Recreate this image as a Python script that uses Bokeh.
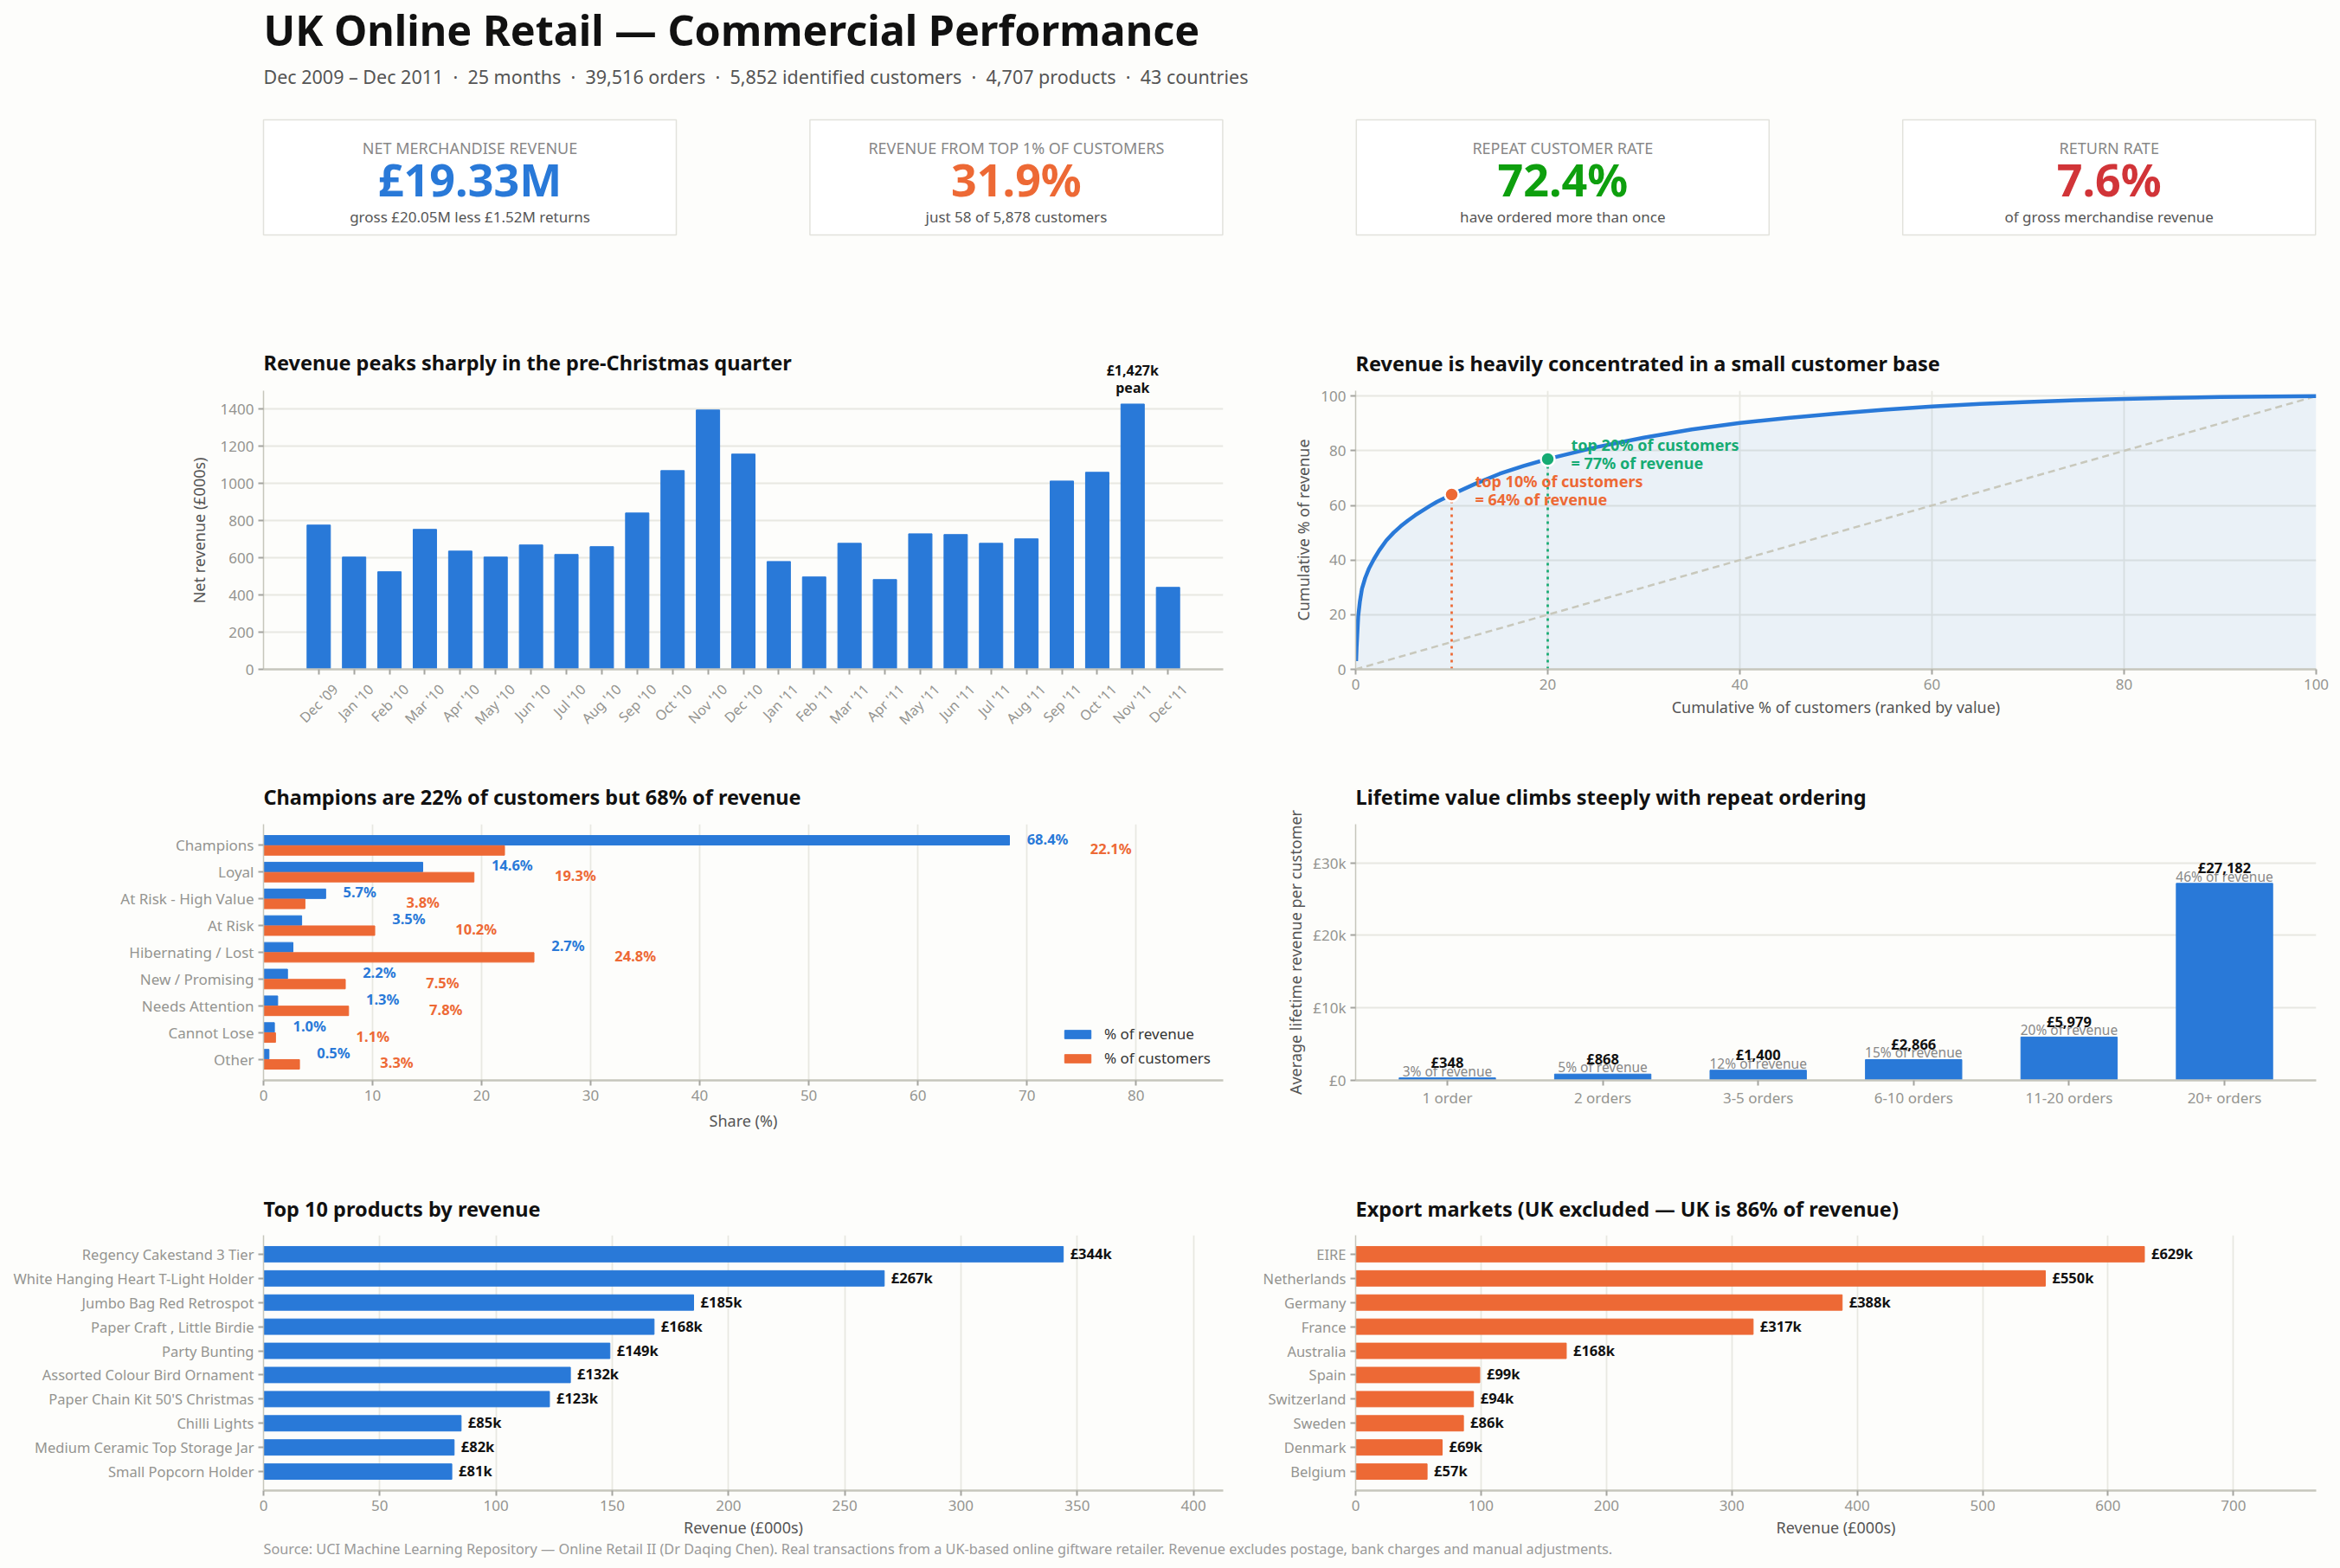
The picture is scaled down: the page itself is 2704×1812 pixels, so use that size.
from bokeh.core.properties import value
from bokeh.embed import file_html
from bokeh.resources import INLINE
from bokeh.layouts import column, row
from bokeh.models import ColumnDataSource, FactorRange, Label, LinearAxis, Range1d
from bokeh.plotting import figure
from bokeh.transform import dodge

# ---------- data ----------
title_text = "UK Online Retail — Commercial Performance"
subtitle_text = ("Dec 2009 – Dec 2011 \u00a0·\u00a0 25 months \u00a0·\u00a0 39,516 orders \u00a0·\u00a0 "
                 "5,852 identified customers \u00a0·\u00a0 4,707 products \u00a0·\u00a0 43 countries")
source_text = ("Source: UCI Machine Learning Repository — Online Retail II (Dr Daqing Chen). Real transactions from a "
               "UK-based online giftware retailer. Revenue excludes postage, bank charges and manual adjustments.")

kpi_labels = ["NET MERCHANDISE REVENUE", "REVENUE FROM TOP 1% OF CUSTOMERS", "REPEAT CUSTOMER RATE", "RETURN RATE"]
kpi_values = ["£19.33M", "31.9%", "72.4%", "7.6%"]
kpi_notes = ["gross £20.05M less £1.52M returns", "just 58 of 5,878 customers",
             "have ordered more than once", "of gross merchandise revenue"]

months = ["Dec '09", "Jan '10", "Feb '10", "Mar '10", "Apr '10", "May '10", "Jun '10", "Jul '10", "Aug '10",
          "Sep '10", "Oct '10", "Nov '10", "Dec '10", "Jan '11", "Feb '11", "Mar '11", "Apr '11", "May '11",
          "Jun '11", "Jul '11", "Aug '11", "Sep '11", "Oct '11", "Nov '11", "Dec '11"]
monthly_revenue = [776, 604, 525, 753, 636, 604, 669, 618, 660, 841, 1069, 1395, 1158, 580, 497, 678, 483,
                   729, 725, 678, 702, 1013, 1060, 1427, 441]

lorenz_customers = [0.05, 0.1, 0.27, 0.45, 0.66, 1, 1.4, 1.9, 2.45, 3.2, 3.95, 4.7, 5.45, 6.2, 6.95, 7.7, 8.45, 10,
                    12.5, 15, 17.5, 20, 25, 30, 35, 40, 45, 50, 55, 60, 65, 70, 75, 80, 85, 90, 95, 100]
lorenz_revenue = [3, 8, 19.5, 25, 29.5, 33.5, 37, 40.3, 43.5, 47.2, 50, 52.4, 54.5, 56.4, 58.1, 59.75, 61.3, 64,
                  68, 71.6, 74.5, 77, 81.3, 84.8, 87.8, 90.2, 92, 93.6, 95, 96.2, 97.2, 97.9, 98.5, 99, 99.4, 99.7,
                  99.9, 100]
diagonal = [0, 100]
top_customers = [10, 20]
top_revenue = [64, 77]

segments = ["Champions", "Loyal", "At Risk - High Value", "At Risk", "Hibernating / Lost", "New / Promising",
            "Needs Attention", "Cannot Lose", "Other"]
segment_revenue = [68.4, 14.6, 5.7, 3.5, 2.7, 2.2, 1.3, 1.0, 0.5]
segment_customers = [22.1, 19.3, 3.8, 10.2, 24.8, 7.5, 7.8, 1.1, 3.3]

order_bands = ["1 order", "2 orders", "3-5 orders", "6-10 orders", "11-20 orders", "20+ orders"]
lifetime_value = [348, 868, 1400, 2866, 5979, 27182]
band_revenue_share = [3, 5, 12, 15, 20, 46]

products = ["Regency Cakestand 3 Tier", "White Hanging Heart T-Light Holder", "Jumbo Bag Red Retrospot",
            "Paper Craft , Little Birdie", "Party Bunting", "Assorted Colour Bird Ornament",
            "Paper Chain Kit 50'S Christmas", "Chilli Lights", "Medium Ceramic Top Storage Jar",
            "Small Popcorn Holder"]
product_revenue = [344, 267, 185, 168, 149, 132, 123, 85, 82, 81]

countries = ["EIRE", "Netherlands", "Germany", "France", "Australia", "Spain", "Switzerland", "Sweden",
             "Denmark", "Belgium"]
country_revenue = [629, 550, 388, 317, 168, 99, 94, 86, 69, 57]

# ---------- style ----------
FONT = "Noto Sans"
BG = "#FDFDFB"
BLUE = "#2979D8"
ORANGE = "#ED6935"
GREEN = "#16AB73"
KPI_COLORS = [BLUE, ORANGE, "#0E9F0E", "#D13438"]
GRID = "#E8E8E2"
AXIS = "#C6C6BC"
TICK = "#A5A5A0"
TICK_TEXT = "#949490"
LABEL = "#555555"
INK = "#111111"

LEFT = dict(width=1440, min_border_left=304, min_border_right=27)
RIGHT = dict(width=1256, min_border_left=126, min_border_right=20)


def panel(title, side, height, top, bottom, x_range, y_range, xgrid, ygrid, xlabel=None, ylabel=None,
          title_standoff=30):
    p = figure(height=height, x_range=x_range, y_range=y_range, output_backend="svg", toolbar_location=None,
               min_border_top=top, min_border_bottom=bottom, background_fill_color=BG, border_fill_color=BG,
               outline_line_color=None, **side)
    if title is None:
        p.title = None
    else:
        p.title.text = title
        p.title.align = "left"
        p.title.text_font = FONT
        p.title.text_font_size = "23.5px"
        p.title.text_font_style = "bold"
        p.title.text_color = INK
        p.title.standoff = title_standoff
    p.xgrid.visible = xgrid
    p.ygrid.visible = ygrid
    p.grid.grid_line_color = GRID
    p.grid.grid_line_width = 1.8
    for ax in (p.xaxis[0], p.yaxis[0]):
        ax.major_label_text_font = FONT
        ax.major_label_text_font_size = "17px"
        ax.major_label_text_color = TICK_TEXT
        ax.axis_label_text_font = FONT
        ax.axis_label_text_font_size = "18px"
        ax.axis_label_text_font_style = "normal"
        ax.axis_label_text_color = LABEL
        ax.major_tick_line_color = TICK
        ax.major_tick_line_width = 2
        ax.major_tick_out = 6
        ax.major_tick_in = 0
        ax.minor_tick_line_color = None
        ax.major_label_standoff = 5
    p.xaxis[0].axis_line_color = AXIS
    p.xaxis[0].axis_line_width = 2.5
    p.yaxis[0].axis_line_color = AXIS
    p.yaxis[0].axis_line_width = 1.5
    if xlabel:
        p.xaxis[0].axis_label = xlabel
    if ylabel:
        p.yaxis[0].axis_label = ylabel
    return p


# ---------- header ----------
HEADER_W, HEADER_H = 2696, 360
header = figure(width=HEADER_W, height=HEADER_H, x_range=Range1d(0, HEADER_W), y_range=Range1d(HEADER_H, 0),
                output_backend="svg", toolbar_location=None, min_border=0, background_fill_color=BG,
                border_fill_color=BG, outline_line_color=None)
header.axis.visible = False
header.grid.visible = False
header.add_layout(Label(x=304, y=33, text=title_text, text_font=FONT, text_font_size="48.5px",
                        text_font_style="bold", text_color=INK, text_baseline="middle"))
header.add_layout(Label(x=304, y=88, text=subtitle_text, text_font=FONT, text_font_size="21.5px", text_color=LABEL,
                        text_baseline="middle"))
CARD_W, CARD_STEP = 477, 631.4
card_left = [304 + i * CARD_STEP for i in range(len(kpi_values))]
header.quad(left=card_left, right=[x + CARD_W for x in card_left], top=[138] * 4, bottom=[271] * 4,
            fill_color="#FFFFFF", line_color="#E2E2DC", line_width=1.5)
for x, lab, val, note, col in zip(card_left, kpi_labels, kpi_values, kpi_notes, KPI_COLORS):
    cx = x + CARD_W / 2
    header.add_layout(Label(x=cx, y=170, text=lab, text_font=FONT, text_font_size="18px", text_color="#888888",
                            text_align="center", text_baseline="middle"))
    header.add_layout(Label(x=cx, y=206, text=val, text_font=FONT, text_font_size="52px", text_font_style="bold",
                            text_color=col, text_align="center", text_baseline="middle"))
    header.add_layout(Label(x=cx, y=250, text=note, text_font=FONT, text_font_size="17px", text_color=LABEL,
                            text_align="center", text_baseline="middle"))

# ---------- monthly revenue ----------
PAD_A = 1.06
SHIFT_A = 0.47      # rotated month labels are centred on their ticks
AXIS_TOP_A = 1499   # the axis stops here; the frame continues upward to hold the title and the peak note
FRAME_TOP_A = 1713
month_index = list(range(len(months)))
x_start_a = -0.5 - PAD_A
pa = panel(None, LEFT, 520, 45, 107,
           Range1d(x_start_a, len(months) - 0.5 + PAD_A),
           Range1d(0, FRAME_TOP_A), False, True, ylabel="Net revenue (£000s)" + "\u00a0" * 10)
pa.frame_align = False
pa.vbar(x=month_index, top=monthly_revenue, width=0.66, color=BLUE)
pa.yaxis[0].ticker = [0, 200, 400, 600, 800, 1000, 1200, 1400]
pa.yaxis[0].bounds = (0, AXIS_TOP_A)
pa.yaxis[0].axis_label_standoff = 10
pa.xaxis[0].ticker = month_index
pa.xaxis[0].major_label_overrides = {i: "" for i in month_index}
pa.xaxis[0].major_label_text_font_size = "1px"
pa.xaxis[0].major_label_standoff = 0
pa.extra_x_ranges = {"labels": Range1d(x_start_a - SHIFT_A, len(months) - 0.5 + PAD_A - SHIFT_A)}
month_axis = LinearAxis(x_range_name="labels", ticker=month_index,
                        major_label_overrides={i: m for i, m in enumerate(months)},
                        major_label_orientation=0.785, major_label_text_font=FONT, major_label_text_font_size="16px",
                        major_label_text_color=TICK_TEXT, major_label_standoff=8, axis_line_color=None,
                        major_tick_line_color=None, minor_tick_line_color=None)
pa.add_layout(month_axis, "below")
pa.add_layout(Label(x=x_start_a, y=AXIS_TOP_A + 149, text="Revenue peaks sharply in the pre-Christmas quarter",
                    text_font=FONT, text_font_size="23.5px", text_font_style="bold", text_color=INK,
                    text_baseline="middle"))
peak = max(monthly_revenue)
pa.add_layout(Label(x=monthly_revenue.index(peak), y=peak, y_offset=8, text=f"£{peak:,}k\npeak",
                    text_font=FONT, text_font_size="16px", text_font_style="bold", text_color=INK,
                    text_align="center", text_baseline="bottom", text_line_height=0.92))

# ---------- concentration curve ----------
pb = panel("Revenue is heavily concentrated in a small customer base", RIGHT, 520, 91, 107,
           Range1d(0, 100), Range1d(0, 102), True, True,
           xlabel="Cumulative % of customers (ranked by value)", ylabel="Cumulative % of revenue",
           title_standoff=31)
pb.frame_align = False
pb.xaxis[0].ticker = [0, 20, 40, 60, 80, 100]
pb.yaxis[0].ticker = [0, 20, 40, 60, 80, 100]
pb.xaxis[0].axis_label_standoff = 5
pb.varea(x=lorenz_customers, y1=[0] * len(lorenz_customers), y2=lorenz_revenue, fill_color=BLUE, fill_alpha=0.09)
pb.line(x=diagonal, y=diagonal, line_color="#C8C8BC", line_width=2.5, line_dash=[8, 5])
pb.line(x=lorenz_customers, y=lorenz_revenue, line_color=BLUE, line_width=4.5)
for cust, rev, col, dy in zip(top_customers, top_revenue, [ORANGE, GREEN], [5, 6]):
    pb.line(x=[cust, cust], y=[0, rev], line_color=col, line_width=2.7, line_dash=[3, 5])
    pb.scatter(x=[cust], y=[rev], size=16, fill_color=col, line_color="#FFFFFF", line_width=2.5)
    pb.add_layout(Label(x=cust, y=rev, x_offset=27, y_offset=dy,
                        text=f"top {cust}% of customers\n= {rev}% of revenue", text_font=FONT,
                        text_font_size="18px", text_font_style="bold", text_color=col, text_baseline="middle",
                        text_line_height=0.845))

# ---------- segments ----------
seg_range = FactorRange(factors=segments[::-1], range_padding=0.29, range_padding_units="absolute")
pc = panel("Champions are 22% of customers but 68% of revenue", LEFT, 460, 72, 92,
           Range1d(0, 88), seg_range, True, False, xlabel="Share (%)", title_standoff=31)
pc.xaxis[0].ticker = [0, 10, 20, 30, 40, 50, 60, 70, 80]
pc.xaxis[0].axis_label_standoff = 8
seg = ColumnDataSource(dict(
    seg=segments, rev=segment_revenue, cust=segment_customers,
    rev_text=[f"{v:.1f}%" for v in segment_revenue],
    cust_text=[f"{v:.1f}%" for v in segment_customers],
    rev_x=[max(a, b) + 1.6 for a, b in zip(segment_revenue, segment_customers)],
    cust_x=[max(a, b) + 7.4 for a, b in zip(segment_revenue, segment_customers)],
))
pc.hbar(y=dodge("seg", 0.19, range=seg_range), right="rev", left=0, height=0.356, color=BLUE, source=seg,
        legend_label="% of revenue")
pc.hbar(y=dodge("seg", -0.19, range=seg_range), right="cust", left=0, height=0.356, color=ORANGE, source=seg,
        legend_label="% of customers")
pc.text(x="rev_x", y=dodge("seg", 0.19, range=seg_range), text="rev_text", source=seg, text_font=value(FONT),
        text_font_size="16.5px", text_font_style="bold", text_color=BLUE, text_baseline="middle", y_offset=-2)
pc.text(x="cust_x", y=dodge("seg", -0.19, range=seg_range), text="cust_text", source=seg, text_font=value(FONT),
        text_font_size="16.5px", text_font_style="bold", text_color=ORANGE, text_baseline="middle", y_offset=-2)
pc.legend.location = "bottom_right"
pc.legend.background_fill_alpha = 0
pc.legend.border_line_color = None
pc.legend.label_text_font = FONT
pc.legend.label_text_font_size = "17px"
pc.legend.label_text_color = "#333333"
pc.legend.glyph_width = 38
pc.legend.glyph_height = 12
pc.legend.spacing = 5
pc.legend.label_standoff = 12
pc.legend.margin = 14
pc.legend.padding = 10

# ---------- lifetime value ----------
pd_ = panel("Lifetime value climbs steeply with repeat ordering", RIGHT, 460, 72, 92,
            FactorRange(factors=order_bands, range_padding=0.09, range_padding_units="absolute"),
            Range1d(0, 35340), False, True, ylabel="Average lifetime revenue per customer", title_standoff=31)
pd_.yaxis[0].ticker = [0, 10000, 20000, 30000]
pd_.yaxis[0].major_label_overrides = {0: "£0", 10000: "£10k", 20000: "£20k", 30000: "£30k"}
pd_.yaxis[0].axis_label_standoff = 5
pd_.xaxis[0].major_label_standoff = 2
ltv = ColumnDataSource(dict(band=order_bands, value=lifetime_value,
                            value_text=[f"£{v:,}" for v in lifetime_value],
                            share_text=[f"{v}% of revenue" for v in band_revenue_share]))
pd_.vbar(x="band", top="value", width=0.62, color=BLUE, source=ltv)
pd_.text(x="band", y="value", text="share_text", source=ltv, y_offset=-8, text_font=value(FONT),
         text_font_size="15.5px", text_color="#888888", text_align="center", text_baseline="middle")
pd_.text(x="band", y="value", text="value_text", source=ltv, y_offset=-18, text_font=value(FONT),
         text_font_size="16.5px", text_font_style="bold", text_color=INK, text_align="center",
         text_baseline="middle")


# ---------- top lists ----------
def ranked(title, side, names, values, color, xmax, ticks):
    yr = FactorRange(factors=names[::-1], range_padding=0.285, range_padding_units="absolute")
    p = panel(title, side, 439, 87, 56, Range1d(0, xmax), yr, True, False, xlabel="Revenue (£000s)",
              title_standoff=29)
    p.xaxis[0].ticker = ticks
    p.xaxis[0].axis_label_standoff = 4
    p.xaxis[0].axis_label_text_line_height = 0.75
    p.hbar(y=names, right=values, left=0, height=0.64, color=color)
    src = ColumnDataSource(dict(name=names, value=values, text=[f"£{v}k" for v in values]))
    p.text(x="value", y="name", text="text", source=src, x_offset=8, y_offset=-1, text_font=value(FONT),
           text_font_size="16.5px", text_font_style="bold", text_color=INK, text_baseline="middle")
    p.yaxis[0].major_label_text_font_size = "16.5px"
    return p


pe = ranked("Top 10 products by revenue", LEFT, products, product_revenue, BLUE, 412.8,
            [0, 50, 100, 150, 200, 250, 300, 350, 400])
pf = ranked("Export markets (UK excluded — UK is 86% of revenue)", RIGHT, countries, country_revenue, ORANGE, 766,
            [0, 100, 200, 300, 400, 500, 600, 700])

# ---------- footer ----------
footer = figure(width=2696, height=25, x_range=Range1d(0, 2696), y_range=Range1d(1804, 1779), output_backend="svg",
                toolbar_location=None, min_border=0, background_fill_color=BG, border_fill_color=BG,
                outline_line_color=None)
footer.axis.visible = False
footer.grid.visible = False
footer.add_layout(Label(x=304, y=1789, text=source_text, text_font=FONT, text_font_size="16.3px",
                        text_color="#999999", text_baseline="middle"))

page = column(header, row(pa, pb), row(pc, pd_), row(pe, pf), footer)
html = file_html(page, INLINE)
html = html.replace("<head>", "<head><style>html,body{background:" + BG + ";}</style>", 1)
open("out.html", "w").write(html)
